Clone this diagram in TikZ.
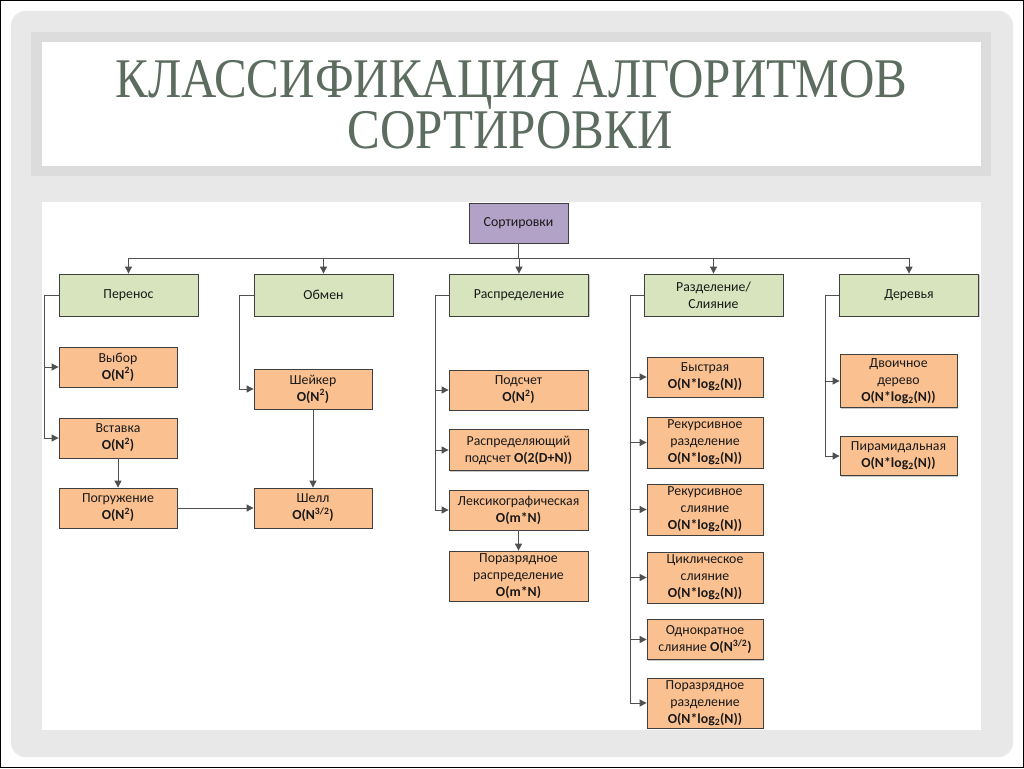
\documentclass[tikz,border=0pt]{standalone}
\usepackage{fontspec}
\setmainfont{Carlito}
\newfontfamily\titlefont[FakeStretch=0.875]{Liberation Serif}
\usetikzlibrary{arrows.meta,shadows,calc}
\definecolor{bgc}{HTML}{E8E8E8}
\definecolor{band}{HTML}{DCDCDC}
\definecolor{titlec}{HTML}{5C6D60}
\definecolor{grn}{HTML}{D7E4BD}
\definecolor{org}{HTML}{FAC090}
\definecolor{purp}{HTML}{B3A2C7}
\definecolor{boxline}{HTML}{3F3F3F}
\definecolor{lc}{HTML}{505050}
\begin{document}
\begin{tikzpicture}[x=1pt,y=-1pt,
  box/.style={draw=boxline, line width=0.8pt, align=center, inner sep=0pt,
    font=\fontsize{13.8}{17}\selectfont, text=black!90,
    drop shadow={shadow xshift=1.3pt, shadow yshift=-1.3pt, opacity=0.3, fill=black!70}},
  grp/.style={box, fill=grn, minimum width=139pt, minimum height=42pt},
  alg/.style={box, fill=org, minimum height=40pt},
  conn/.style={draw=lc, line width=0.9pt, -{Triangle[length=7pt,width=7pt]}},
  ttl/.style={font=\titlefont\fontsize{56}{52}\selectfont, text=titlec, anchor=base, inner sep=0pt}
]
\useasboundingbox (0,0) rectangle (1024,768);
\fill[white] (0,0) rectangle (1024,768);
\draw[black, line width=1.2pt] (0.6,0.6) rectangle (1023.4,767.4);
\fill[bgc, rounded corners=14pt] (11,11) rectangle (1013,757);
% title panel
\fill[band] (31,32) rectangle (991,176);
\fill[white] (42,42) rectangle (981,166);
\node[ttl] (title1) at (511.5,97) {КЛАССИФИКАЦИЯ АЛГОРИТМОВ};
\node[ttl] (title2) at (510,148) {СОРТИРОВКИ};
% diagram panel
\fill[white] (42,202) rectangle (981,730);

% nodes
\node[box, fill=purp, minimum width=99pt, minimum height=40pt] (root) at (518.5,223) {Сортировки};
\node[grp] (g1) at (128.5,295) {Перенос};
\node[grp] (g2) at (323.5,295) {Обмен};
\node[grp] (g3) at (519,295) {Распределение};
\node[grp] (g4) at (713.5,295) {Разделение/\\Слияние};
\node[grp] (g5) at (909,295) {Деревья};

\node[alg, minimum width=118pt] (a1) at (118,367) {Выбор\\\textbf{O(N\textsuperscript{2})}};
\node[alg, minimum width=118pt] (a2) at (118,438) {Вставка\\\textbf{O(N\textsuperscript{2})}};
\node[alg, minimum width=118pt] (a3) at (118,508) {Погружение\\\textbf{O(N\textsuperscript{2})}};

\node[alg, minimum width=118pt] (b1) at (313,389) {Шейкер\\\textbf{O(N\textsuperscript{2})}};
\node[alg, minimum width=118pt] (b2) at (313,508) {Шелл\\\textbf{O(N\textsuperscript{3/2})}};

\node[alg, minimum width=139pt] (c1) at (518.5,390) {Подсчет\\\textbf{O(N\textsuperscript{2})}};
\node[alg, minimum width=139pt, minimum height=41pt] (c2) at (518.5,450) {Распределяющий\\подсчет \textbf{O(2(D+N))}};
\node[alg, minimum width=139pt] (c3) at (518.5,510) {Лексикографическая\\\textbf{O(m*N)}};
\node[alg, minimum width=139pt, minimum height=50pt] (c4) at (518.5,576) {Поразрядное\\распределение\\\textbf{O(m*N)}};

\node[alg, minimum width=116pt] (d1) at (705,377) {Быстрая\\\textbf{O(N*log\textsubscript{2}(N))}};
\node[alg, minimum width=116pt, minimum height=51pt] (d2) at (705,442.5) {Рекурсивное\\разделение\\\textbf{O(N*log\textsubscript{2}(N))}};
\node[alg, minimum width=116pt, minimum height=51pt] (d3) at (705,509.5) {Рекурсивное\\слияние\\\textbf{O(N*log\textsubscript{2}(N))}};
\node[alg, minimum width=116pt, minimum height=51pt] (d4) at (705,577.5) {Циклическое\\слияние\\\textbf{O(N*log\textsubscript{2}(N))}};
\node[alg, minimum width=116pt] (d5) at (705,639.5) {Однократное\\слияние \textbf{O(N\textsuperscript{3/2})}};
\node[alg, minimum width=116pt, minimum height=50pt] (d6) at (705,703) {Поразрядное\\разделение\\\textbf{O(N*log\textsubscript{2}(N))}};

\node[alg, minimum width=117pt, minimum height=53pt] (e1) at (898.5,381) {Двоичное\\дерево\\\textbf{O(N*log\textsubscript{2}(N))}};
\node[alg, minimum width=117pt, minimum height=39pt] (e2) at (898.5,456) {Пирамидальная\\\textbf{O(N*log\textsubscript{2}(N))}};

% connectors
\coordinate (bus) at (0,258);
\foreach \g in {g1,g2,g3,g4,g5}
  \draw[conn] (root.south) -- (root.south |- bus) -| (\g.north);

\coordinate (x1) at (44,0);
\coordinate (x2) at (239,0);
\coordinate (x3) at (435,0);
\coordinate (x4) at (630,0);
\coordinate (x5) at (825,0);
\foreach \c in {a1,a2}
  \draw[conn] (g1.west) -- (g1.west -| x1) |- (\c.west);
\draw[conn] (g2.west) -- (g2.west -| x2) |- (b1.west);
\foreach \c in {c1,c2,c3}
  \draw[conn] (g3.west) -- (g3.west -| x3) |- (\c.west);
\foreach \c in {d1,d2,d3,d4,d5,d6}
  \draw[conn] (g4.west) -- (g4.west -| x4) |- (\c.west);
\foreach \c in {e1,e2}
  \draw[conn] (g5.west) -- (g5.west -| x5) |- (\c.west);

\draw[conn] (a2.south) -- (a3.north);
\draw[conn] (b1.south) -- (b2.north);
\draw[conn] (a3.east) -- (b2.west);
\draw[conn] (c3.south) -- (c4.north);
\end{tikzpicture}
\end{document}
